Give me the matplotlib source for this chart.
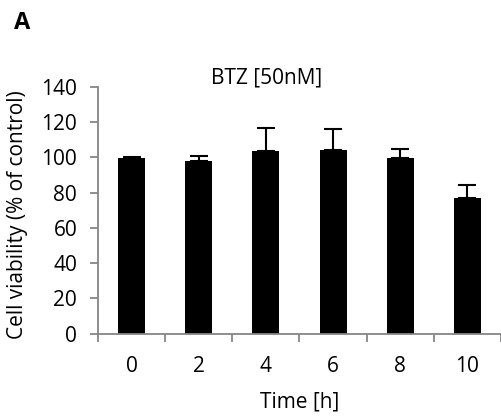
import numpy as np
import matplotlib
matplotlib.use('Agg')
import matplotlib.pyplot as plt

plt.rcParams['font.family'] = ['Open Sans', 'DejaVu Sans']

times = ['0', '2', '4', '6', '8', '10']
viability = [99.5, 98.0, 103.7, 104.0, 99.8, 76.9]
err_plus = [0.5, 2.5, 12.8, 12.0, 4.9, 7.5]

axis_gray = '#868686'

fig = plt.figure(figsize=(5.02, 4.19), dpi=100)
ax = fig.add_axes([0.1952, 0.204, 0.8028, 0.589])

x_pos = np.arange(len(times))
ax.bar(x_pos, viability, width=0.4, color='black', zorder=2)
ax.errorbar(x_pos, viability, yerr=[np.zeros(len(err_plus)), err_plus],
            fmt='none', ecolor='black', elinewidth=1.5, capsize=6.5,
            capthick=1.5, zorder=1)

ax.set_xlim(-0.5, len(times) - 0.5)
ax.set_ylim(0, 140)
ax.set_yticks(np.arange(0, 141, 20))

ax.set_xticks(x_pos)
ax.set_xticklabels(times)
ax.set_xticks(np.arange(-0.5, len(times), 1), minor=True)

for s in ['top', 'right']:
    ax.spines[s].set_visible(False)
for s in ['left', 'bottom']:
    ax.spines[s].set_color(axis_gray)
    ax.spines[s].set_linewidth(1.3)

ax.tick_params(axis='x', which='major', length=0, pad=16, labelsize=15)
ax.tick_params(axis='x', which='minor', length=6, width=1.3, color=axis_gray,
               direction='out')
ax.tick_params(axis='y', length=6, width=1.3, color=axis_gray, pad=9,
               labelsize=15)

fig.text(300 / 502, 1 - 402 / 419, 'Time [h]', ha='center', va='center',
         fontsize=15)
fig.text(18 / 502, 1 - 215 / 419, 'Cell viability (% of control)',
         rotation=90, ha='center', va='center', fontsize=15)
fig.text(267 / 502, 1 - 78 / 419, 'BTZ [50nM]', ha='center', va='center',
         fontsize=15)
fig.text(14 / 502, 1 - 23 / 419, 'A', ha='left', va='center', fontsize=17,
         fontweight='bold')

plt.savefig('out.png', dpi=100)
